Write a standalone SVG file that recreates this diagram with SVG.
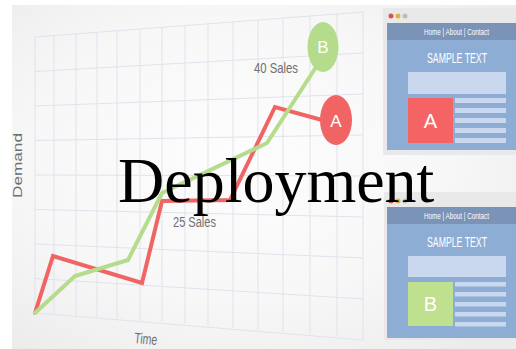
<svg xmlns="http://www.w3.org/2000/svg" width="516" height="349" viewBox="0 0 516 349">
<defs>
<radialGradient id="bg" cx="0.45" cy="0.45" r="0.7">
<stop offset="0" stop-color="#fdfdfd"/>
<stop offset="0.6" stop-color="#f7f7f8"/>
<stop offset="1" stop-color="#ececed"/>
</radialGradient>
<style>
.grid{stroke:#dfe3ec;stroke-width:1;fill:none}
.small{font-family:"Liberation Sans",Arial,sans-serif;fill:#6f6f6f}
.nav{font-family:"Liberation Sans",Arial,sans-serif;fill:#ffffff;font-size:9px}
.title{font-family:"Liberation Sans",Arial,sans-serif;fill:#ffffff;font-size:14px}
.big{font-family:"Liberation Sans",Arial,sans-serif;fill:#ffffff;font-size:20px}
.line{fill:none;stroke-width:4;stroke-linejoin:miter;stroke-linecap:round}
.bar{fill:#c9d8ee}
</style>
</defs>
<rect width="516" height="349" fill="#ffffff"/>
<rect x="12" y="5" width="504" height="344" fill="url(#bg)"/>

<g id="grid">
<path class="grid" d="M35,37 L363,12 M35,71.5 L363,53 M35,106 L363,94 M35,140.5 L363,135 M35,175 L363,176 M35,209.5 L363,217 M35,244 L363,258 M35,278.5 L363,299 M35,313 L363,340"/>
<path class="grid" d="M35,37V313 M54,35.5V314.5 M76,34V316 M97,32V317.5 M117,31V319 M140,29V320.5 M162,27.5V322 M185,26V324 M208,24V326 M233,22V328 M258,20V330 M283,18V332 M310,16V334 M337,14V336 M363,12V340"/>
</g>

<g id="chart-lines">
<polyline class="line" stroke="#f06464" points="35,313 53,256 142,283 162,201 230,200 275,107 322,120"/>
<polyline class="line" stroke="#b5dc8a" points="35,313 75,276 128,260 162,193 267,143 318,64"/>
</g>

<g id="node-B">
<ellipse cx="323" cy="47" rx="15.5" ry="25" fill="#b5dc8a"/>
<text x="323" y="53" text-anchor="middle" class="big" style="font-size:17px">B</text>
</g>
<g id="node-A">
<ellipse cx="336" cy="120" rx="16" ry="25" fill="#f06464"/>
<text x="336" y="127" text-anchor="middle" class="big" style="font-size:17px">A</text>
</g>

<text class="small" x="254" y="73" font-size="14" textLength="44" lengthAdjust="spacingAndGlyphs">40 Sales</text>
<text class="small" x="173" y="227" font-size="14" textLength="43" lengthAdjust="spacingAndGlyphs">25 Sales</text>
<text class="small" font-size="15" textLength="23" lengthAdjust="spacingAndGlyphs" transform="translate(134,343) rotate(5)">Time</text>
<text class="small" font-size="13" textLength="65" lengthAdjust="spacingAndGlyphs" transform="translate(22,198) rotate(-90)">Demand</text>

<g id="panel-A">
<rect x="383" y="8" width="133" height="147" fill="#e9e9ea"/>
<circle cx="391" cy="16" r="2.5" fill="#d9534f"/>
<circle cx="398" cy="16" r="2.5" fill="#e2b23e"/>
<circle cx="405" cy="16" r="2.5" fill="#bdbdbd"/>
<rect x="387" y="23" width="129" height="17" fill="#7b93b6"/>
<rect x="387" y="40" width="129" height="110" fill="#8eadd5"/>
<text class="nav" x="456.5" y="34.5" text-anchor="middle" textLength="65" lengthAdjust="spacingAndGlyphs">Home | About | Contact</text>
<text class="title" x="457" y="63" text-anchor="middle" textLength="60" lengthAdjust="spacingAndGlyphs">SAMPLE TEXT</text>
<rect class="bar" x="408" y="72" width="98" height="22"/>
<rect x="408" y="98" width="45" height="45" fill="#f56464"/>
<text class="big" x="430.5" y="128" text-anchor="middle">A</text>
<rect class="bar" x="455" y="98" width="51" height="5"/>
<rect class="bar" x="455" y="108" width="51" height="5"/>
<rect class="bar" x="455" y="118" width="51" height="5"/>
<rect class="bar" x="455" y="128" width="51" height="5"/>
<rect class="bar" x="455" y="138" width="51" height="5"/>
</g>

<g id="panel-B">
<rect x="384" y="192" width="132" height="148" fill="#e9e9ea"/>
<circle cx="391" cy="201" r="2.5" fill="#d9534f"/>
<circle cx="398" cy="201" r="2.5" fill="#e2b23e"/>
<circle cx="405" cy="201" r="2.5" fill="#bdbdbd"/>
<rect x="387" y="207" width="129" height="17" fill="#7b93b6"/>
<rect x="387" y="224" width="129" height="114" fill="#8eadd5"/>
<text class="nav" x="456.5" y="218.5" text-anchor="middle" textLength="65" lengthAdjust="spacingAndGlyphs">Home | About | Contact</text>
<text class="title" x="457" y="247" text-anchor="middle" textLength="60" lengthAdjust="spacingAndGlyphs">SAMPLE TEXT</text>
<rect class="bar" x="408" y="256" width="98" height="21"/>
<rect x="408" y="282" width="45" height="44" fill="#bfe08f"/>
<text class="big" x="430.5" y="311" text-anchor="middle">B</text>
<rect class="bar" x="455" y="282" width="51" height="4.5"/>
<rect class="bar" x="455" y="292" width="51" height="4.5"/>
<rect class="bar" x="455" y="302" width="51" height="4.5"/>
<rect class="bar" x="455" y="312" width="51" height="4.5"/>
<rect class="bar" x="455" y="322" width="51" height="4.5"/>
</g>

<text x="118" y="202" font-family="'Liberation Serif','Times New Roman',serif" font-size="64" fill="#000000">Deployment</text>
</svg>
